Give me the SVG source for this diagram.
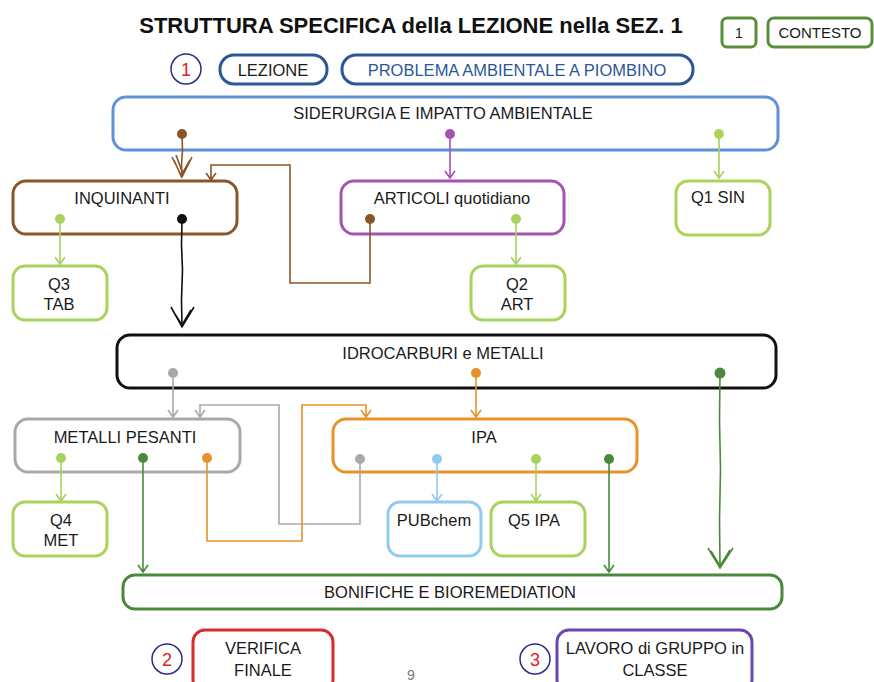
<svg xmlns="http://www.w3.org/2000/svg" width="874" height="682" viewBox="0 0 874 682">
<defs>
<style>
text{font-family:"Liberation Sans",Arial,sans-serif;font-size:16.5px;fill:#1a1a1a;text-anchor:middle}
.box{fill:#fff;stroke-width:3}
.c{fill:none;stroke-width:1.6}
.lg{stroke:#a8d35c}.lgf{fill:#a8d35c}
.dg{stroke:#4b8a3c}.dgf{fill:#4b8a3c}
.br{stroke:#8a5627}.brf{fill:#8a5627}
.pu{stroke:#a653b4}.puf{fill:#a653b4}
.or{stroke:#e8912c}.orf{fill:#e8912c}
.gr{stroke:#a9a9a9}.grf{fill:#a9a9a9}
.lb{stroke:#92cbee}.lbf{fill:#92cbee}
.bk{stroke:#111}.bkf{fill:#111}
</style>
</defs>

<text x="411" y="33" style="font-size:22px;font-weight:bold;fill:#111">STRUTTURA SPECIFICA della LEZIONE nella SEZ. 1</text>

<g id="n-num1"><rect x="722" y="18" width="34" height="29" rx="5" class="box" stroke="#5a8e3a"/><text x="739" y="38" style="font-size:14px">1</text></g>
<g id="n-contesto"><rect x="768" y="18" width="104" height="29" rx="6" class="box" stroke="#5a8e3a"/><text x="820" y="38" style="font-size:15px">CONTESTO</text></g>

<g id="n-c1"><circle cx="186" cy="69" r="15" fill="#fff" stroke="#2b2d84" stroke-width="1.5"/><text x="186" y="76" style="font-size:18px;fill:#e02020">1</text></g>
<g id="n-lezione"><rect x="220" y="55" width="107" height="29" rx="14" class="box" stroke="#2c5699"/><text x="273" y="76">LEZIONE</text></g>
<g id="n-problema"><rect x="342" y="55" width="351" height="29" rx="14" class="box" stroke="#2c5699"/><text x="517" y="76" style="fill:#2c5699">PROBLEMA AMBIENTALE A PIOMBINO</text></g>

<g id="n-siderurgia"><rect x="113" y="97" width="665" height="53" rx="13" class="box" stroke="#5f92d6"/><text x="443" y="119">SIDERURGIA E IMPATTO AMBIENTALE</text></g>
<g id="n-inquinanti"><rect x="13" y="181" width="224" height="53" rx="13" class="box" stroke="#8a5627"/><text x="122" y="204">INQUINANTI</text></g>
<g id="n-articoli"><rect x="341" y="181" width="223" height="53" rx="13" class="box" stroke="#a653b4"/><text x="452" y="204">ARTICOLI quotidiano</text></g>
<g id="n-q1"><rect x="676" y="181" width="94" height="54" rx="12" class="box" stroke="#a8d35c"/><text x="718" y="203">Q1 SIN</text></g>
<g id="n-q3"><rect x="13" y="266" width="94" height="54" rx="12" class="box" stroke="#a8d35c"/><text x="59" y="290">Q3</text><text x="59" y="310">TAB</text></g>
<g id="n-q2"><rect x="471" y="266" width="94" height="54" rx="12" class="box" stroke="#a8d35c"/><text x="517" y="290">Q2</text><text x="517" y="310">ART</text></g>

<g id="n-idro"><rect x="117" y="335" width="659" height="53" rx="13" class="box" stroke="#111"/><text x="443" y="359">IDROCARBURI e METALLI</text></g>
<g id="n-metalli"><rect x="15" y="419" width="225" height="53" rx="13" class="box" stroke="#a9a9a9"/><text x="125" y="443">METALLI PESANTI</text></g>
<g id="n-ipa"><rect x="333" y="419" width="304" height="53" rx="13" class="box" stroke="#e8912c"/><text x="484" y="443">IPA</text></g>
<g id="n-q4"><rect x="13" y="502" width="94" height="54" rx="12" class="box" stroke="#a8d35c"/><text x="61" y="526">Q4</text><text x="61" y="546">MET</text></g>
<g id="n-pub"><rect x="388" y="502" width="93" height="54" rx="12" class="box" stroke="#92cbee"/><text x="434" y="526">PUBchem</text></g>
<g id="n-q5"><rect x="491" y="502" width="94" height="54" rx="12" class="box" stroke="#a8d35c"/><text x="534" y="526">Q5 IPA</text></g>

<g id="n-bonifiche"><rect x="123" y="575" width="659" height="34" rx="12" class="box" stroke="#4b8a3c"/><text x="450" y="598">BONIFICHE E BIOREMEDIATION</text></g>

<g id="n-c2"><circle cx="167" cy="659" r="15" fill="#fff" stroke="#2b2d84" stroke-width="1.5"/><text x="167" y="666" style="font-size:18px;fill:#e02020">2</text></g>
<g id="n-verifica"><rect x="193" y="630" width="140" height="62" rx="12" class="box" stroke="#d92b2b"/><text x="263" y="654">VERIFICA</text><text x="263" y="676">FINALE</text></g>
<g id="n-c3"><circle cx="535" cy="659" r="15" fill="#fff" stroke="#2b2d84" stroke-width="1.5"/><text x="535" y="666" style="font-size:18px;fill:#e02020">3</text></g>
<g id="n-lavoro"><rect x="557" y="630" width="195" height="62" rx="12" class="box" stroke="#6a48b0"/><text x="655" y="654">LAVORO di GRUPPO in</text><text x="655" y="676">CLASSE</text></g>
<text x="411" y="680" style="font-size:14px;fill:#777">9</text>

<g id="connectors">
<path class="c br" d="M182,134 L182.5,150 L181.5,165 L182,176" stroke-width="2.5"/>
<path class="c br" d="M172,157 L182,177 L192,157 M174,160 L181,176 L190,160 M176,155 L183,174" stroke-width="2.2"/>
<circle cx="182" cy="134" r="5" class="brf"/>
<path class="c pu" d="M450,134 V177 M445,171 L450,178 L455,171"/>
<circle cx="450" cy="134" r="5" class="puf"/>
<path class="c lg" d="M719,134 V177 M714,171 L719,178 L724,171"/>
<circle cx="719" cy="134" r="5" class="lgf"/>
<path class="c br" d="M370,219 V283 H290 V165 H211 V179 M206,173 L211,180 L216,173"/>
<circle cx="370" cy="219" r="5" class="brf"/>
<path class="c lg" d="M516,219 V263 M511,257 L516,264 L521,257"/>
<circle cx="516" cy="219" r="5" class="lgf"/>
<path class="c lg" d="M60,219 V263 M55,257 L60,264 L65,257"/>
<circle cx="60" cy="219" r="5" class="lgf"/>
<path class="c bk" d="M182,219 L181.5,245 L182.5,270 L181.5,300 L182,326" stroke-width="3"/>
<path class="c bk" d="M171,307 L182,327 L194,307 M173,311 L182,325 L191,310" stroke-width="2.2"/>
<circle cx="182" cy="219" r="5" class="bkf"/>
<path class="c gr" d="M173,373 V416 M168,410 L173,417 L178,410"/>
<circle cx="173" cy="373" r="5" class="grf"/>
<path class="c or" d="M476,373 V416 M471,410 L476,417 L481,410"/>
<circle cx="476" cy="373" r="5" class="orf"/>
<path class="c dg" d="M720,373 L719.5,420 L720.5,470 L719.5,520 L720,566" stroke-width="3"/>
<path class="c dg" d="M708,548 L720,568 L733,548 M711,551 L720,566 L730,550" stroke-width="2.2"/>
<circle cx="720" cy="373" r="5.5" class="dgf"/>
<path class="c gr" d="M360,459 V524 H279 V405 H200 V416 M195,410 L200,417 L205,410"/>
<path class="c or" d="M207,458 V541 H302 V405 H366 V416 M361,410 L366,417 L371,410"/>
<circle cx="360" cy="459" r="5" class="grf"/>
<circle cx="207" cy="458" r="5" class="orf"/>
<path class="c lg" d="M61,458 V500 M56,494 L61,501 L66,494"/>
<circle cx="61" cy="458" r="5" class="lgf"/>
<path class="c dg" d="M143,458 V571 M138,565 L143,572 L148,565"/>
<circle cx="143" cy="458" r="5" class="dgf"/>
<path class="c lb" d="M437,459 V500 M432,494 L437,501 L442,494"/>
<circle cx="437" cy="459" r="5" class="lbf"/>
<path class="c lg" d="M536,459 V500 M531,494 L536,501 L541,494"/>
<circle cx="536" cy="459" r="5" class="lgf"/>
<path class="c dg" d="M609,459 V571 M604,565 L609,572 L614,565"/>
<circle cx="609" cy="459" r="5" class="dgf"/>
</g>
</svg>
